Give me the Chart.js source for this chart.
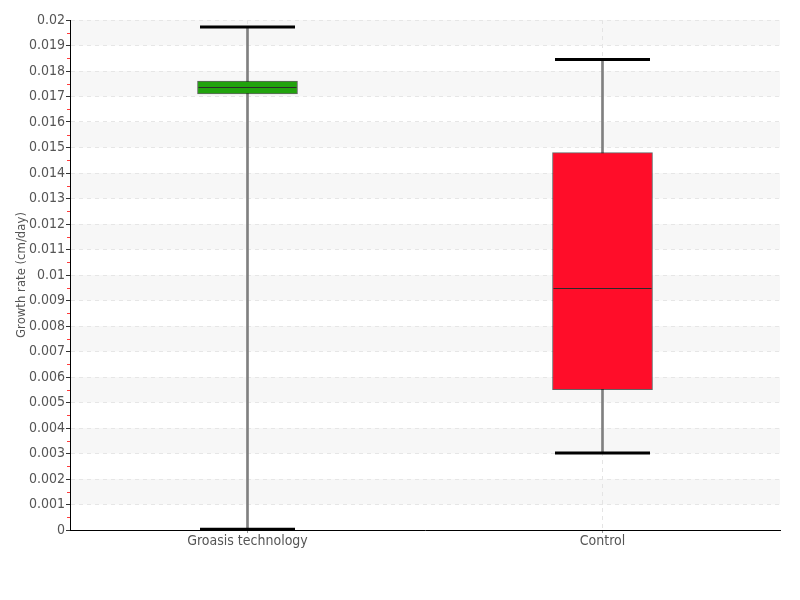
<!DOCTYPE html>
<html>
<head>
<meta charset="utf-8">
<script src="https://cdn.jsdelivr.net/npm/chart.js@4/dist/chart.umd.min.js"></script>
<style>
  html,body{margin:0;padding:0;background:#fff;}
  #wrap{width:800px;height:600px;}
</style>
</head>
<body>
<div id="wrap"><canvas id="c" width="800" height="600"></canvas></div>
<script>
'use strict';

/* box plot values */
var labels   = ['Groasis technology','Control'];
var minVals  = [0.00003, 0.00302];
var q1Vals   = [0.01710, 0.00550];
var medVals  = [0.01738, 0.00950];
var q3Vals   = [0.01760, 0.01480];
var maxVals  = [0.01973, 0.01845];
var boxCols  = ['#21a30d','#ff0d29'];

var Y_MIN = 0, Y_MAX = 0.02, Y_STEP = 0.001;

function fmt(v){ return String(+v.toFixed(4)); }

/* alternating grey bands, red minor ticks, whisker caps and medians */
var boxPlugin = {
  id:'boxextras',
  beforeDraw:function(chart){
    var ctx=chart.ctx, ca=chart.chartArea, y=chart.scales.y;
    ctx.save();
    ctx.fillStyle='#f7f7f7';
    for(var v=Y_STEP; v<Y_MAX-1e-9; v+=2*Y_STEP){
      var top=y.getPixelForValue(v+Y_STEP), bot=y.getPixelForValue(v);
      ctx.fillRect(ca.left,top,ca.right-ca.left,bot-top);
    }
    ctx.restore();
  },
  afterDatasetsDraw:function(chart){
    var ctx=chart.ctx, x=chart.scales.x, y=chart.scales.y;
    ctx.save();
    for(var i=0;i<labels.length;i++){
      var cx=x.getPixelForValue(i);
      // median
      ctx.strokeStyle='#2b2b2b';ctx.lineWidth=1;
      var my=Math.round(y.getPixelForValue(medVals[i]))+0.5;
      ctx.beginPath();ctx.moveTo(cx-49,my);ctx.lineTo(cx+49,my);ctx.stroke();
      // caps
      ctx.strokeStyle='#000';ctx.lineWidth=3;
      [minVals[i],maxVals[i]].forEach(function(v){
        var py=y.getPixelForValue(v);
        ctx.beginPath();ctx.moveTo(cx-47.5,py);ctx.lineTo(cx+47.5,py);ctx.stroke();
      });
    }
    ctx.restore();
  },
  afterDraw:function(chart){
    var ctx=chart.ctx, ca=chart.chartArea, y=chart.scales.y;
    ctx.save();
    ctx.strokeStyle='#ff3b3b';ctx.lineWidth=1;
    for(var v=Y_STEP/2; v<Y_MAX; v+=Y_STEP){
      var py=Math.round(y.getPixelForValue(v))+0.5;
      ctx.beginPath();ctx.moveTo(ca.left-3,py);ctx.lineTo(ca.left,py);ctx.stroke();
    }
    ctx.restore();
  }
};

var FONT="'DejaVu Sans Condensed','Liberation Sans Narrow',sans-serif";

var ranges=labels.map(function(_,i){return [minVals[i],maxVals[i]];});
var boxes =labels.map(function(_,i){return [q1Vals[i],q3Vals[i]];});

new Chart(document.getElementById('c'),{
  type:'bar',
  data:{
    labels:labels,
    datasets:[
      {data:boxes,backgroundColor:boxCols,borderColor:'rgba(0,0,0,0.6)',borderWidth:1,borderSkipped:false,
        barThickness:100,grouped:false,order:1},
      {data:ranges,backgroundColor:'#808080',borderWidth:0,barThickness:2,grouped:false,order:2}
    ]
  },
  options:{
    responsive:false,animation:false,
    layout:{padding:{left:0,right:20,top:20,bottom:0}},
    plugins:{legend:{display:false},tooltip:{enabled:false}},
    scales:{
      x:{
        grid:{color:'#e4e4e4',offset:false,tickLength:3,tickColor:'#999'},
        border:{color:'#000',width:1,dash:[4,4]},
        ticks:{color:'#555',font:{family:FONT,size:14},padding:0},
        afterFit:function(s){s.height=70;}
      },
      y:{
        min:Y_MIN,max:Y_MAX,
        grid:{color:'#e6e6e6',tickLength:4,tickColor:'#333'},
        border:{color:'#000',width:1,dash:[4,4]},
        ticks:{stepSize:Y_STEP,color:'#555',font:{family:FONT,size:14},padding:1,
          callback:function(v){return fmt(v);}},
        title:{display:true,text:'Growth rate (cm/day)',color:'#555',font:{family:FONT,size:13},padding:{top:14,bottom:0}},
        afterFit:function(s){s.width=70;}
      }
    }
  },
  plugins:[boxPlugin]
});
</script>
</body>
</html>
